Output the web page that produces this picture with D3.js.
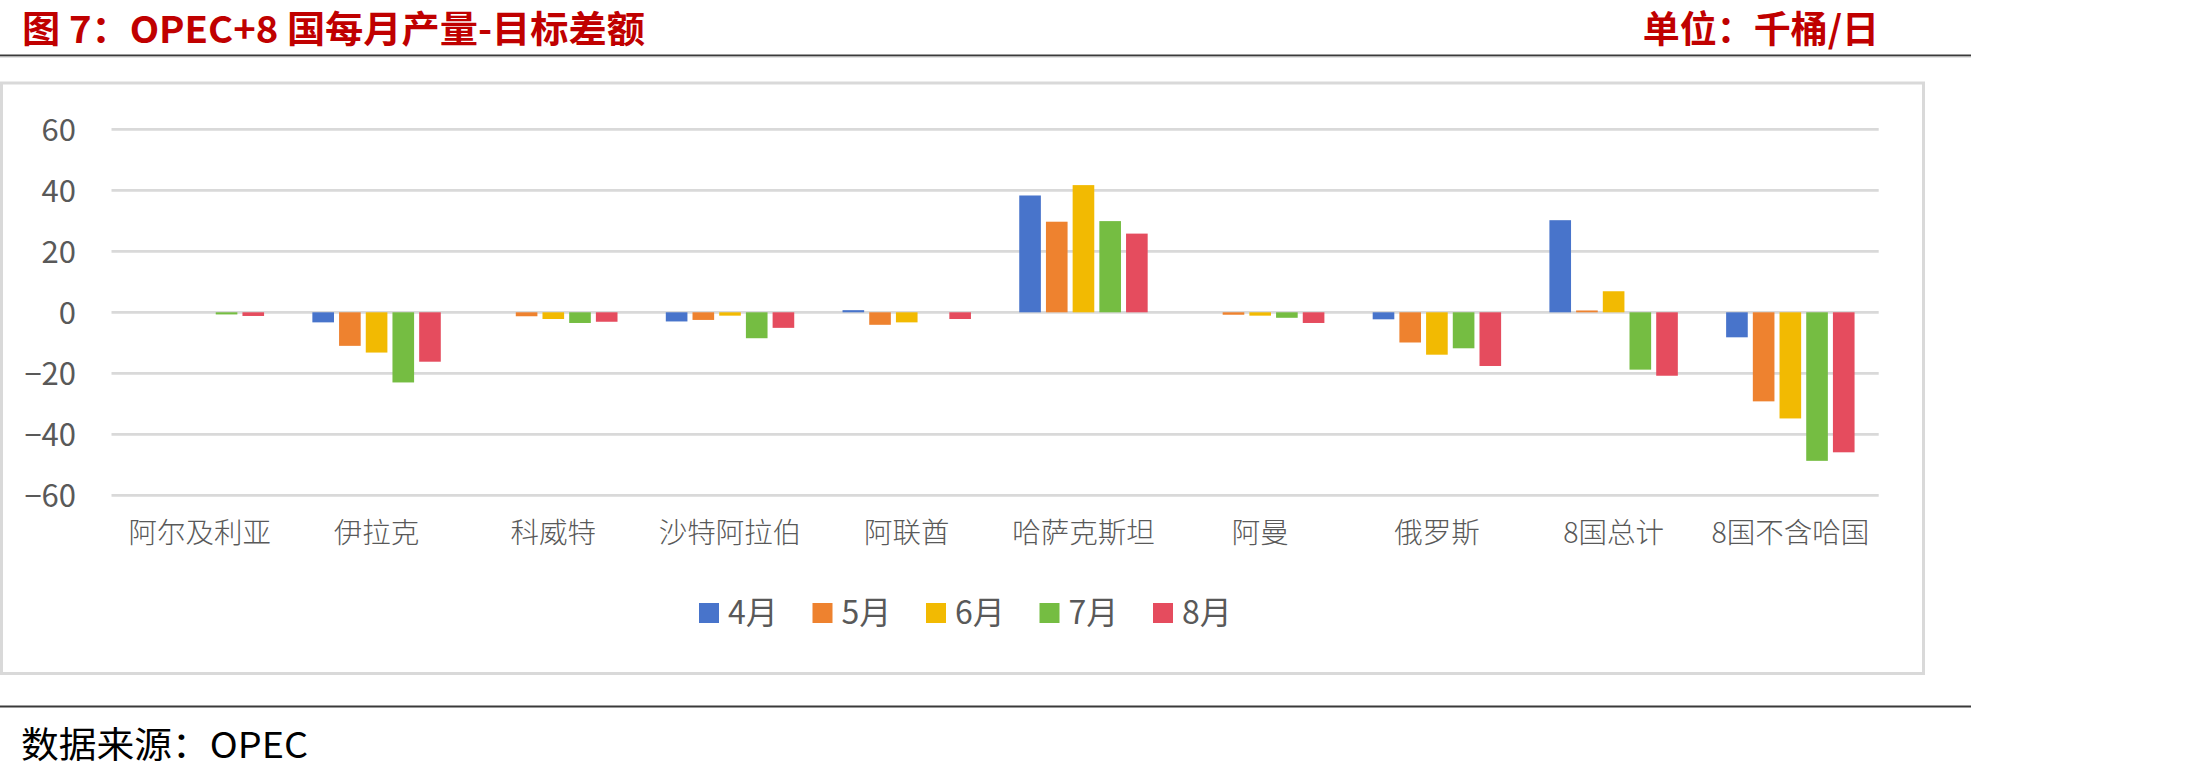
<!DOCTYPE html>
<html><head><meta charset="utf-8">
<script src="https://cdn.jsdelivr.net/npm/d3@7/dist/d3.min.js"></script>
<style>
html,body{margin:0;padding:0;background:#fff;}
svg{display:block;}
</style></head>
<body>
<script>
const titleText = "图 7：OPEC+8 国每月产量-目标差额";
const unitText = "单位：千桶/日";
const sourceText = "数据来源：OPEC";
const categories = ["阿尔及利亚","伊拉克","科威特","沙特阿拉伯","阿联酋","哈萨克斯坦","阿曼","俄罗斯","8国总计","8国不含哈国"];
const months = ["4月","5月","6月","7月","8月"];
const colors = ["#4874CB","#EE822F","#F2BA02","#75BD42","#E54C5E"];
const apr = [0, -3.3, 0, -3.0, 0.7, 38.3, 0, -2.3, 30.2, -8.2];
const may = [0, -11.0, -1.3, -2.5, -4.1, 29.7, -0.8, -9.9, 0.6, -29.2];
const jun = [0, -13.2, -2.2, -1.1, -3.3, 41.7, -1.1, -13.9, 6.9, -34.8];
const jul = [-0.7, -23.0, -3.5, -8.5, 0, 29.9, -1.8, -11.8, -18.8, -48.7];
const aug = [-1.2, -16.2, -3.1, -5.1, -2.2, 25.8, -3.5, -17.6, -20.8, -45.9];
const yTicks = [-60,-40,-20,0,20,40,60];
const series = [apr, may, jun, jul, aug];

const W = 2201, H = 775;
const svg = d3.select("body").append("svg").attr("width", W).attr("height", H);
const CJK = "'Noto Sans CJK SC','Noto Sans',sans-serif";

function fitText(sel, w){
  const n = sel.node();
  const len = n.getComputedTextLength();
  if (Math.abs(len - w) / w > 0.02) sel.attr("textLength", w).attr("lengthAdjust", "spacingAndGlyphs");
}

// header
const t = svg.append("text").attr("x", 22).attr("y", 27).attr("dominant-baseline","central")
  .attr("font-family", CJK).attr("font-weight", 700).attr("font-size", 37).attr("fill", "#C00000").text(titleText);
fitText(t, 623);
const u = svg.append("text").attr("x", 1879).attr("y", 27).attr("dominant-baseline","central").attr("text-anchor","end")
  .attr("font-family", CJK).attr("font-weight", 700).attr("font-size", 37).attr("fill", "#C00000").text(unitText);
fitText(u, 238);
svg.append("line").attr("x1",0).attr("x2",1971).attr("y1",55.5).attr("y2",55.5).attr("stroke","#3a3a3a").attr("stroke-width",2);
svg.append("line").attr("x1",0).attr("x2",1971).attr("y1",57).attr("y2",57).attr("stroke","#c8c8c8").attr("stroke-width",1);

// chart box
svg.append("rect").attr("x",1.5).attr("y",83).attr("width",1922).attr("height",590.5)
  .attr("fill","#fff").attr("stroke","#D9D9D9").attr("stroke-width",3);

// scales
const x0 = d3.scaleBand().domain(categories).range([111.5, 1878.7]).paddingInner(0).paddingOuter(0);
const x1 = d3.scaleBand().domain(months).range([-66.75, 66.75]).paddingInner(0.19).paddingOuter(0.095);
const y = d3.scaleLinear().domain([-60, 60]).range([495.3, 129.3]);

// grid
const grid = svg.append("g");
grid.selectAll("line").data(yTicks).join("line")
  .attr("x1", 111.5).attr("x2", 1878.7)
  .attr("y1", d => y(d)).attr("y2", d => y(d))
  .attr("stroke", "#D9D9D9").attr("stroke-width", 2.7);

// y axis labels
const yAxis = d3.axisLeft(y).tickValues(yTicks).tickSize(0).tickPadding(0).tickFormat(d3.format("d"));
const ya = svg.append("g").attr("transform", "translate(76,0)").call(yAxis);
ya.select(".domain").remove();
ya.selectAll("text").attr("font-family", CJK).attr("font-size", 31).attr("fill", "#595959").attr("dy", "0.35em");

// bars
const groups = svg.append("g").selectAll("g").data(categories).join("g")
  .attr("transform", c => `translate(${x0(c) + x0.bandwidth()/2},0)`);
groups.selectAll("rect").data((c, i) => months.map((m, j) => ({m, j, v: series[j][i]})))
  .join("rect")
  .attr("x", d => x1(d.m))
  .attr("width", x1.bandwidth())
  .attr("y", d => y(Math.max(0, d.v)))
  .attr("height", d => Math.abs(y(d.v) - y(0)))
  .attr("fill", d => colors[d.j]);

// x labels
const xAxis = d3.axisBottom(x0).tickSize(0).tickPadding(0);
const xa = svg.append("g").attr("transform", "translate(0,533)").call(xAxis);
xa.select(".domain").remove();
xa.selectAll("text").attr("font-family", CJK).attr("font-weight", 300).attr("font-size", 28.5)
  .attr("fill", "#595959").attr("dy", "0.35em");

// legend
const legend = svg.append("g").selectAll("g").data(months).join("g")
  .attr("transform", (m, i) => `translate(${699 + i * 113.5},613)`);
legend.append("rect").attr("x", 0).attr("y", -10).attr("width", 20).attr("height", 20).attr("fill", (m, i) => colors[i]);
legend.append("text").attr("x", 29).attr("y", 0).attr("dy", "0.35em")
  .attr("font-family", CJK).attr("font-size", 32).attr("fill", "#595959").text(m => m);

// footer
svg.append("line").attr("x1",0).attr("x2",1971).attr("y1",706.5).attr("y2",706.5).attr("stroke","#3a3a3a").attr("stroke-width",2);
const s = svg.append("text").attr("x", 21).attr("y", 742).attr("dominant-baseline","central")
  .attr("font-family", CJK).attr("font-size", 36).attr("fill", "#000").text(sourceText);
fitText(s, 287);
</script>
</body></html>
